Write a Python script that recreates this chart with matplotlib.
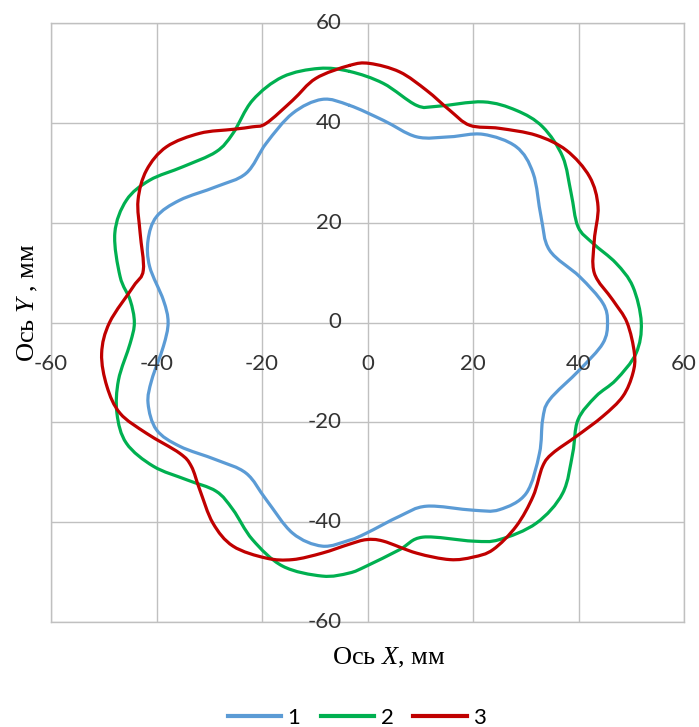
import numpy as np
import matplotlib.pyplot as plt
from matplotlib.path import Path
from matplotlib.patches import PathPatch

# контуры, мм (обход по часовой стрелке от верхней точки)
x1 = [-3.4, 3.0, 9.3, 15.6, 21.9, 28.2, 31.4, 32.9, 34.5, 40.2, 44.6, 45.5, 44.6, 40.2, 34.5, 33.2,
      32.6, 30.1, 25.0, 20.0, 11.2, 6.1, -0.2, -3.4, -8.6, -14.2, -19.2, -23.0, -28.7, -35.6, -40.0,
      -41.6, -40.9, -38.7, -37.8, -38.7, -41.3, -41.6, -40.0, -35.6, -28.7, -23.0, -19.2, -14.2, -8.6]
y1 = [43.5, 40.5, 37.2, 37.2, 37.7, 35.2, 29.9, 21.2, 14.5, 9.2, 3.9, 0.0, -4.2, -9.5, -15.5, -19.5,
      -26.2, -34.2, -37.5, -37.6, -36.8, -38.8, -42.2, -43.6, -44.8, -42.2, -35.5, -30.2, -27.5, -24.8, -21.5,
      -16.2, -11.5, -4.8, 0.0, 4.5, 11.2, 16.5, 21.2, 24.5, 27.2, 29.9, 35.9, 41.9, 44.7]

x2 = [-3.4, 3.0, 9.3, 13.1, 21.9, 28.2, 33.2, 37.0, 38.6, 39.9, 42.7, 47.1, 50.3, 51.9, 50.9, 47.1,
      43.3, 39.9, 38.9, 37.0, 32.0, 25.0, 20.0, 10.5, 6.1, -0.2, -3.5, -8.6, -16.1, -21.8, -25.5,
      -28.7, -34.3, -40.6, -45.7, -47.5, -47.2, -45.0, -44.2, -45.0, -46.9, -47.9, -45.7, -41.3, -35.0,
      -28.7, -25.5, -21.8, -16.1, -9.2]
y2 = [50.3, 47.9, 43.5, 43.3, 44.2, 42.5, 39.2, 33.2, 25.9, 19.2, 15.9, 11.9, 7.2, 0.0, -6.2, -11.5,
      -14.8, -19.5, -26.2, -34.2, -40.2, -43.5, -43.8, -43.0, -45.5, -48.8, -50.2, -50.8, -48.8, -43.5, -37.5,
      -33.8, -31.5, -28.8, -24.2, -18.2, -11.5, -4.2, 0.0, 4.5, 9.2, 17.9, 24.5, 28.5, 31.2,
      34.2, 37.9, 44.5, 49.2, 50.9]

x3 = [-3.4, 0.4, 6.1, 11.2, 15.6, 19.4, 25.0, 32.0, 37.7, 42.1, 43.7, 43.0, 43.0, 46.5, 49.2, 50.6,
      50.3, 48.4, 44.6, 39.6, 35.1, 33.2, 31.4, 28.2, 23.8, 20.0, 15.6, 9.3, 3.0, -0.2, -3.4,
      -8.6, -14.2, -19.2, -25.5, -29.3, -31.8, -33.4, -35.6, -41.9, -46.9, -49.4, -50.4, -48.9, -44.4,
      -42.5, -43.1, -43.5, -41.9, -38.1, -31.8, -25.5, -21.8, -19.2, -14.2, -9.8]
y3 = [51.5, 51.9, 50.2, 46.5, 42.5, 39.5, 38.9, 37.5, 34.5, 29.2, 23.2, 16.5, 9.9, 4.5, 0.0, -6.2,
      -10.2, -14.8, -18.8, -22.8, -26.2, -28.8, -34.8, -40.8, -45.5, -47.0, -47.5, -46.2, -43.8, -43.5, -44.4,
      -46.2, -47.5, -47.2, -44.8, -40.2, -33.5, -28.8, -26.2, -22.2, -18.2, -12.8, -6.2, 0.0, 7.2,
      10.5, 17.9, 24.5, 30.5, 35.2, 37.9, 38.7, 39.2, 39.9, 44.5, 48.9]

series = [('1', x1, y1, '#5B9BD5'), ('2', x2, y2, '#00B050'), ('3', x3, y3, '#C00000')]
ticks = [-60, -40, -20, 0, 20, 40, 60]


def smooth_path(xs, ys):
    # сглаженная линия как в Excel: замкнутый сплайн Катмулла-Рома через кривые Безье
    p = np.column_stack([xs, ys])
    n = len(p)
    verts = [p[0]]
    codes = [Path.MOVETO]
    for i in range(n):
        p0, p1, p2, p3 = p[i - 1], p[i], p[(i + 1) % n], p[(i + 2) % n]
        verts += [p1 + (p2 - p0) / 6, p2 - (p3 - p1) / 6, p2]
        codes += [Path.CURVE4] * 3
    return Path(verts, codes)


fig = plt.figure(figsize=(6.99, 7.27), dpi=100)
ax = fig.add_axes([51 / 699, 1 - 622 / 727, 633 / 699, 599 / 727])
ax.set_xlim(-60, 60)
ax.set_ylim(-60, 60)
ax.set_xticks(ticks)
ax.set_yticks(ticks)
ax.grid(True, color='#c0c0c0', lw=1)
ax.set_axisbelow(True)
ax.tick_params(length=0, labelbottom=False, labelleft=False)
for s in ax.spines.values():
    s.set_color('#c0c0c0')
    s.set_linewidth(1)

tick_font = dict(family='Lato', fontsize=16, color='#333333')
for t in ticks:
    ax.annotate(str(t), xy=(t, 0), xytext=(0, -41), textcoords='offset pixels',
                ha='center', va='center', **tick_font)
    ax.annotate(str(t), xy=(0, t), xytext=(-26, 0), textcoords='offset pixels',
                ha='right', va='center', **tick_font)

for name, xs, ys, col in series:
    ax.add_patch(PathPatch(smooth_path(xs, ys), fill=False, edgecolor=col, lw=2.3,
                           capstyle='round', joinstyle='round'))
    ax.plot([], [], color=col, lw=3, label=name)

plt.rcParams['mathtext.fontset'] = 'custom'
plt.rcParams['mathtext.it'] = 'Liberation Serif:italic'
plt.rcParams['mathtext.rm'] = 'Liberation Serif'
fig.text(389 / 699, 1 - 658 / 727, r'Ось $X$, мм', family='Liberation Serif', fontsize=19,
         ha='center', va='center')
fig.text(28 / 699, 1 - 303 / 727, r'Ось $Y$ , мм', family='Liberation Serif', fontsize=19,
         ha='center', va='center', rotation=90)

fig.legend(loc='center', bbox_to_anchor=(357 / 699, 1 - 718 / 727), ncol=3, frameon=False,
           prop={'family': 'Lato', 'size': 16}, handlelength=2.4, handletextpad=0.3,
           columnspacing=0.9)

fig.savefig('out.png', dpi=100)
